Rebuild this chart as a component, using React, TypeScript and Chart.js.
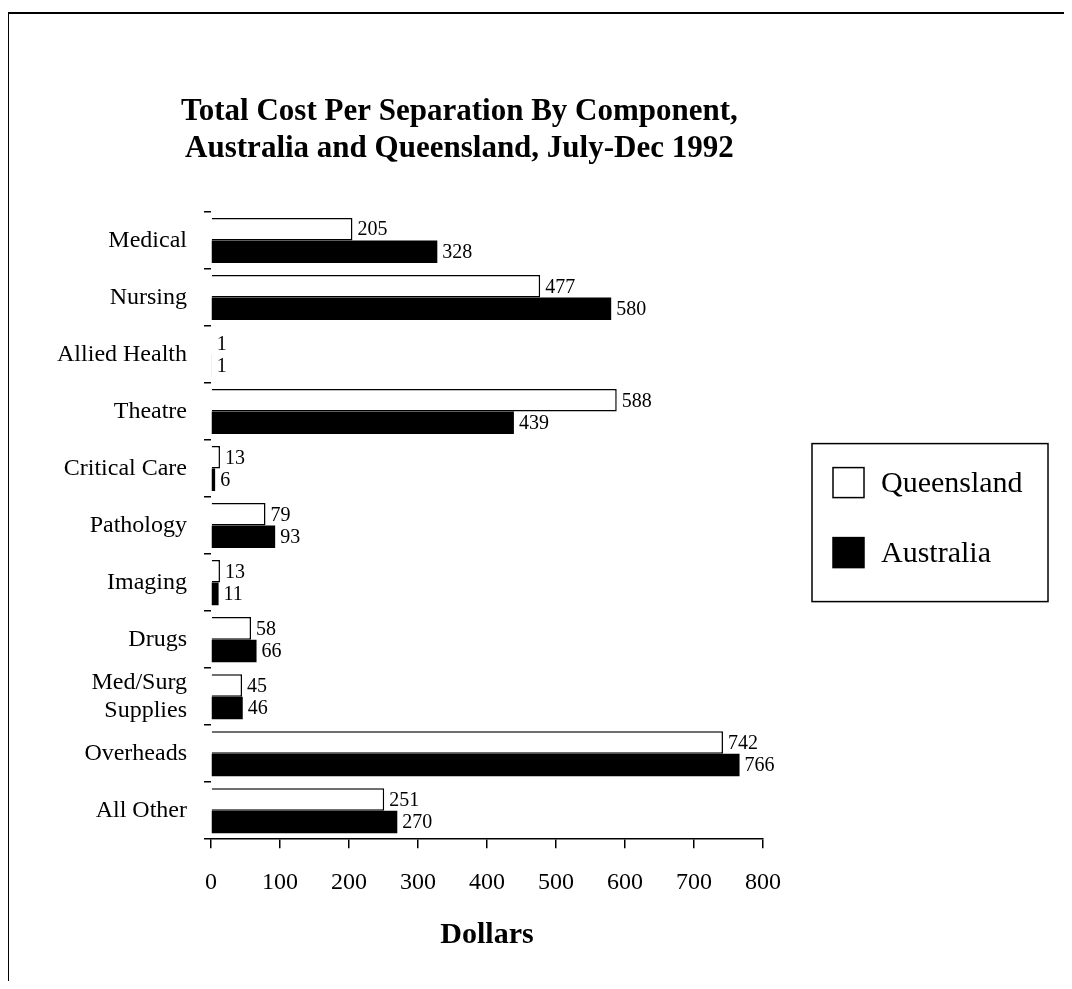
import React, { useEffect, useRef } from 'react';
import { Chart, registerables } from 'chart.js';

Chart.register(...registerables);

const categories: (string | string[])[] = [
  'Medical',
  'Nursing',
  'Allied Health',
  'Theatre',
  'Critical Care',
  'Pathology',
  'Imaging',
  'Drugs',
  ['Med/Surg', 'Supplies'],
  'Overheads',
  'All Other',
];
const queensland = [205, 477, 1, 588, 13, 79, 13, 58, 45, 742, 251];
const australia = [328, 580, 1, 439, 6, 93, 11, 66, 46, 766, 270];
const seriesNames = ['Queensland', 'Australia'];
const titleLines = [
  'Total Cost Per Separation By Component,',
  'Australia and Queensland, July-Dec 1992',
];
const axisTitle = 'Dollars';
const xMin = 0;
const xMax = 800;
const xStep = 100;

const SERIF = "'Liberation Serif', 'Times New Roman', serif";

const titlePlugin = {
  id: 'refTitle',
  afterDraw(chart: any) {
    const { ctx, chartArea: ca } = chart;
    ctx.save();
    ctx.fillStyle = '#000';
    ctx.font = `bold 31px ${SERIF}`;
    ctx.textAlign = 'center';
    ctx.textBaseline = 'middle';
    const cx = ca.left + ca.width * 0.45;
    ctx.fillText(titleLines[0], cx, ca.top - 100);
    ctx.fillText(titleLines[1], cx, ca.top - 63);
    ctx.restore();
  },
};

const legendPlugin = {
  id: 'refLegend',
  afterDraw(chart: any) {
    const { ctx, chartArea: ca } = chart;
    const x0 = ca.right + 49;
    const w = 236;
    const h = 158;
    const y0 = (ca.top + ca.bottom) / 2 - 82;
    ctx.save();
    ctx.strokeStyle = '#000';
    ctx.lineWidth = 1.5;
    ctx.strokeRect(x0, y0, w, h);
    chart.data.datasets.forEach((ds: any, i: number) => {
      const sy = y0 + 24 + i * 70;
      ctx.fillStyle = ds.backgroundColor;
      ctx.fillRect(x0 + 21, sy, 31, 30);
      ctx.strokeStyle = '#000';
      ctx.lineWidth = 1.5;
      ctx.strokeRect(x0 + 21, sy, 31, 30);
      ctx.fillStyle = '#000';
      ctx.font = `30px ${SERIF}`;
      ctx.textAlign = 'left';
      ctx.textBaseline = 'middle';
      ctx.fillText(ds.label, x0 + 69, sy + 17);
    });
    ctx.restore();
  },
};

const valueLabelPlugin = {
  id: 'valueLabels',
  afterDatasetsDraw(chart: any) {
    const { ctx } = chart;
    ctx.save();
    ctx.fillStyle = '#000';
    ctx.font = `20px ${SERIF}`;
    ctx.textAlign = 'left';
    ctx.textBaseline = 'middle';
    chart.data.datasets.forEach((ds: any, di: number) => {
      const meta = chart.getDatasetMeta(di);
      meta.data.forEach((bar: any, i: number) => {
        ctx.fillText(String(ds.data[i]), bar.x + 5, bar.y + 1);
      });
    });
    ctx.restore();
  },
};

export default function App() {
  const canvasRef = useRef<HTMLCanvasElement | null>(null);

  useEffect(() => {
    if (!canvasRef.current) return;
    const chart = new Chart(canvasRef.current, {
      type: 'bar',
      data: {
        labels: categories,
        datasets: [
          {
            label: seriesNames[0],
            data: queensland,
            backgroundColor: '#ffffff',
            borderColor: '#000000',
            borderWidth: 1.5,
            categoryPercentage: 0.79,
            barPercentage: 1,
          },
          {
            label: seriesNames[1],
            data: australia,
            backgroundColor: '#000000',
            borderColor: '#000000',
            borderWidth: 0,
            categoryPercentage: 0.79,
            barPercentage: 1,
          },
        ],
      },
      options: {
        indexAxis: 'y',
        animation: false,
        responsive: false,
        layout: { padding: { top: 204, left: 0, right: 301, bottom: 28 } },
        plugins: {
          legend: { display: false },
          title: { display: false },
          tooltip: { enabled: false },
        },
        scales: {
          x: {
            type: 'linear',
            min: xMin,
            max: xMax,
            ticks: {
              stepSize: xStep,
              color: '#000',
              padding: 20,
              font: { family: SERIF, size: 24 },
            },
            grid: {
              drawOnChartArea: false,
              drawTicks: true,
              tickLength: 9,
              color: '#000',
              lineWidth: 1.5,
            },
            border: { display: true, color: '#000', width: 1.5 },
            title: {
              display: true,
              text: axisTitle,
              color: '#000',
              font: { family: SERIF, size: 30, weight: 'bold' },
              padding: { top: 0, bottom: 0 },
            },
          },
          y: {
            type: 'category',
            ticks: {
              color: '#000',
              padding: 17,
              autoSkip: false,
              font: { family: SERIF, size: 24 },
            },
            grid: {
              offset: true,
              drawOnChartArea: false,
              drawTicks: true,
              tickLength: 7,
              color: '#000',
              lineWidth: 1.5,
            },
            border: { display: false },
            afterFit(scale: any) {
              scale.width = 203;
            },
          },
        },
      },
      plugins: [titlePlugin, legendPlugin, valueLabelPlugin],
    });
    return () => chart.destroy();
  }, []);

  return (
    <div style={{ position: 'relative', width: 1056, height: 973 }}>
      <div
        style={{
          position: 'absolute',
          left: -1,
          top: 4,
          right: 0,
          bottom: 0,
          borderTop: '2px solid #000',
          borderLeft: '2px solid #000',
        }}
      />
      <canvas
        ref={canvasRef}
        width={1056}
        height={973}
        style={{ position: 'relative', display: 'block' }}
      />
    </div>
  );
}
